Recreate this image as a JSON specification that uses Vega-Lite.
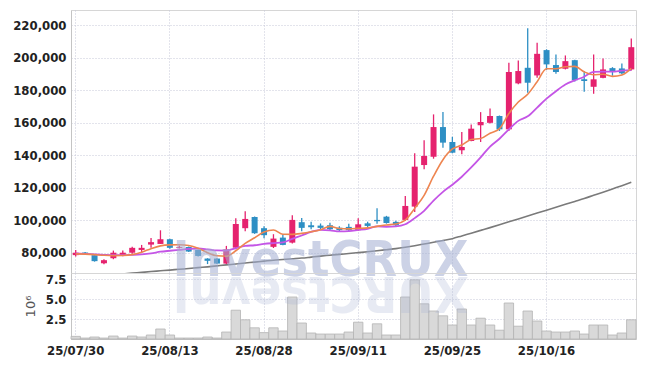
{
  "$schema": "https://vega.github.io/schema/vega-lite/v6.json",
  "padding": {"left": 12, "top": 9, "right": 9, "bottom": 8},
  "background": "white",
  "bounds": "flush",
  "spacing": 0,
  "config": {
    "view": {"stroke": "#d6d6d6"},
    "axis": {
      "labelFont": "DejaVu Sans Condensed",
      "labelFontWeight": "bold",
      "labelFontSize": 13,
      "labelColor": "#222222",
      "labelOverlap": false,
      "domainColor": "#c4c4c4",
      "ticks": false,
      "gridColor": "#c6c9d9",
      "gridDash": [1, 2],
      "gridWidth": 1
    }
  },
  "datasets": {
    "k": [
      {"d": "25/07/30", "o": 78500, "h": 81700, "l": 77600, "c": 80000, "v": 0.33, "m5": 79300, "m10": 79500, "m60": 64500},
      {"d": "25/07/31", "o": 80200, "h": 80500, "l": 79500, "c": 79900, "v": 0.12, "m5": 79100, "m10": 79300, "m60": 65000},
      {"d": "25/08/01", "o": 78500, "h": 78700, "l": 74500, "c": 74800, "v": 0.25, "m5": 78800, "m10": 79000, "m60": 65500},
      {"d": "25/08/04", "o": 73500, "h": 76000, "l": 72900, "c": 75400, "v": 0.12, "m5": 78400, "m10": 78700, "m60": 66000},
      {"d": "25/08/05", "o": 76600, "h": 81300, "l": 76000, "c": 80000, "v": 0.37, "m5": 78200, "m10": 78500, "m60": 66500},
      {"d": "25/08/06", "o": 78500, "h": 81300, "l": 77800, "c": 80000, "v": 0.12, "m5": 78300, "m10": 78500, "m60": 66900},
      {"d": "25/08/07", "o": 80000, "h": 83600, "l": 79400, "c": 83000, "v": 0.37, "m5": 78800, "m10": 78700, "m60": 67400},
      {"d": "25/08/08", "o": 81700, "h": 84800, "l": 79800, "c": 83000, "v": 0.25, "m5": 80300, "m10": 79000, "m60": 67900},
      {"d": "25/08/11", "o": 85000, "h": 89100, "l": 83000, "c": 86500, "v": 0.5, "m5": 82500, "m10": 79600, "m60": 68400},
      {"d": "25/08/12", "o": 85400, "h": 93800, "l": 85400, "c": 88300, "v": 1.25, "m5": 84200, "m10": 80600, "m60": 68850},
      {"d": "25/08/13", "o": 88300, "h": 88600, "l": 82500, "c": 83000, "v": 0.5, "m5": 84800, "m10": 81200, "m60": 69300},
      {"d": "25/08/14", "o": 83000, "h": 84500, "l": 82600, "c": 83500, "v": 0.12, "m5": 84900, "m10": 81750, "m60": 69800},
      {"d": "25/08/18", "o": 83500, "h": 83800, "l": 80400, "c": 80700, "v": 0.12, "m5": 84400, "m10": 82300, "m60": 70250},
      {"d": "25/08/19", "o": 81700, "h": 82000, "l": 77700, "c": 78000, "v": 0.12, "m5": 82700, "m10": 82600, "m60": 70800},
      {"d": "25/08/20", "o": 76400, "h": 76600, "l": 73000, "c": 75000, "v": 0.25, "m5": 80000, "m10": 82100, "m60": 71300},
      {"d": "25/08/21", "o": 76400, "h": 76600, "l": 73000, "c": 73300, "v": 0.12, "m5": 78100, "m10": 81400, "m60": 71900},
      {"d": "25/08/22", "o": 73300, "h": 84200, "l": 73000, "c": 82100, "v": 0.87, "m5": 77800, "m10": 81300, "m60": 72500},
      {"d": "25/08/25", "o": 83100, "h": 101200, "l": 82200, "c": 97700, "v": 3.6, "m5": 81200, "m10": 82800, "m60": 73050},
      {"d": "25/08/26", "o": 95100, "h": 105500, "l": 93200, "c": 100800, "v": 2.4, "m5": 85800, "m10": 84200, "m60": 73650},
      {"d": "25/08/27", "o": 102000, "h": 102300, "l": 91600, "c": 92000, "v": 1.4, "m5": 89200, "m10": 84600, "m60": 74200},
      {"d": "25/08/28", "o": 95100, "h": 96300, "l": 88900, "c": 90800, "v": 0.8, "m5": 92700, "m10": 85400, "m60": 74800},
      {"d": "25/08/29", "o": 83600, "h": 91400, "l": 82900, "c": 88700, "v": 1.4, "m5": 94000, "m10": 85900, "m60": 75400},
      {"d": "25/09/01", "o": 89300, "h": 91200, "l": 84600, "c": 84800, "v": 1.0, "m5": 91400, "m10": 86300, "m60": 75800},
      {"d": "25/09/02", "o": 86200, "h": 103100, "l": 85600, "c": 100200, "v": 5.25, "m5": 91300, "m10": 88500, "m60": 76250},
      {"d": "25/09/03", "o": 98800, "h": 101400, "l": 93200, "c": 95300, "v": 2.0, "m5": 91900, "m10": 90600, "m60": 76700},
      {"d": "25/09/04", "o": 96900, "h": 99100, "l": 94500, "c": 95700, "v": 0.75, "m5": 92900, "m10": 92800, "m60": 77300},
      {"d": "25/09/05", "o": 96700, "h": 98000, "l": 94500, "c": 95300, "v": 0.62, "m5": 94200, "m10": 94100, "m60": 77900},
      {"d": "25/09/08", "o": 96900, "h": 98500, "l": 93400, "c": 94500, "v": 0.62, "m5": 96200, "m10": 93800, "m60": 78450},
      {"d": "25/09/09", "o": 95400, "h": 96300, "l": 93000, "c": 93900, "v": 0.62, "m5": 94900, "m10": 93100, "m60": 79000},
      {"d": "25/09/10", "o": 95900, "h": 97900, "l": 93100, "c": 93900, "v": 0.87, "m5": 94700, "m10": 93300, "m60": 79500},
      {"d": "25/09/11", "o": 93900, "h": 101200, "l": 93500, "c": 97500, "v": 2.1, "m5": 95000, "m10": 94000, "m60": 80050},
      {"d": "25/09/12", "o": 98100, "h": 99100, "l": 95500, "c": 96500, "v": 0.75, "m5": 95300, "m10": 94750, "m60": 80600},
      {"d": "25/09/15", "o": 100200, "h": 107400, "l": 97900, "c": 99400, "v": 1.9, "m5": 96200, "m10": 96200, "m60": 81200},
      {"d": "25/09/16", "o": 102200, "h": 102700, "l": 97900, "c": 98300, "v": 0.5, "m5": 97100, "m10": 96000, "m60": 81850},
      {"d": "25/09/17", "o": 99000, "h": 99700, "l": 96000, "c": 96900, "v": 0.5, "m5": 97700, "m10": 96200, "m60": 82500},
      {"d": "25/09/18", "o": 100200, "h": 115000, "l": 99600, "c": 108800, "v": 5.25, "m5": 100000, "m10": 97500, "m60": 83350},
      {"d": "25/09/19", "o": 108400, "h": 141200, "l": 105100, "c": 133000, "v": 7.4, "m5": 107300, "m10": 101300, "m60": 84300},
      {"d": "25/09/22", "o": 134000, "h": 149200, "l": 131400, "c": 139600, "v": 4.4, "m5": 115300, "m10": 105800, "m60": 85350},
      {"d": "25/09/23", "o": 139100, "h": 165200, "l": 137900, "c": 157400, "v": 3.5, "m5": 127100, "m10": 112100, "m60": 86400},
      {"d": "25/09/24", "o": 157400, "h": 166600, "l": 144700, "c": 147800, "v": 2.9, "m5": 137300, "m10": 117500, "m60": 87500},
      {"d": "25/09/25", "o": 148200, "h": 151400, "l": 141200, "c": 141600, "v": 1.75, "m5": 143900, "m10": 121900, "m60": 88650},
      {"d": "25/09/26", "o": 143100, "h": 154300, "l": 140600, "c": 145100, "v": 3.75, "m5": 146300, "m10": 126800, "m60": 90350},
      {"d": "25/09/29", "o": 148800, "h": 159000, "l": 148600, "c": 156400, "v": 1.75, "m5": 149700, "m10": 132500, "m60": 92050},
      {"d": "25/09/30", "o": 158500, "h": 166600, "l": 148200, "c": 160500, "v": 2.6, "m5": 150300, "m10": 138700, "m60": 93750},
      {"d": "25/10/01", "o": 160000, "h": 168900, "l": 159600, "c": 164200, "v": 1.75, "m5": 153600, "m10": 145400, "m60": 95450},
      {"d": "25/10/02", "o": 164200, "h": 164500, "l": 155000, "c": 156000, "v": 1.1, "m5": 156400, "m10": 150200, "m60": 97200},
      {"d": "25/10/10", "o": 156000, "h": 197000, "l": 155000, "c": 191300, "v": 4.5, "m5": 165700, "m10": 156000, "m60": 99000},
      {"d": "25/10/13", "o": 184300, "h": 198400, "l": 183700, "c": 191900, "v": 1.6, "m5": 172800, "m10": 161200, "m60": 100800},
      {"d": "25/10/14", "o": 193900, "h": 218200, "l": 178500, "c": 184700, "v": 3.5, "m5": 177600, "m10": 164000, "m60": 102600},
      {"d": "25/10/15", "o": 189200, "h": 209300, "l": 187700, "c": 202500, "v": 2.25, "m5": 185300, "m10": 169400, "m60": 104400},
      {"d": "25/10/16", "o": 204800, "h": 205300, "l": 192600, "c": 196000, "v": 1.0, "m5": 193300, "m10": 174900, "m60": 106200},
      {"d": "25/10/17", "o": 195600, "h": 202100, "l": 190200, "c": 191300, "v": 0.87, "m5": 193300, "m10": 179500, "m60": 108000},
      {"d": "25/10/20", "o": 193300, "h": 201500, "l": 192900, "c": 198000, "v": 0.87, "m5": 194500, "m10": 183600, "m60": 109800},
      {"d": "25/10/21", "o": 198600, "h": 198900, "l": 185500, "c": 186200, "v": 1.0, "m5": 194800, "m10": 186200, "m60": 111600},
      {"d": "25/10/22", "o": 186900, "h": 191900, "l": 179100, "c": 185700, "v": 0.62, "m5": 191400, "m10": 188400, "m60": 113400},
      {"d": "25/10/23", "o": 182200, "h": 202100, "l": 177900, "c": 186800, "v": 1.75, "m5": 189600, "m10": 191400, "m60": 115350},
      {"d": "25/10/24", "o": 187700, "h": 199700, "l": 187400, "c": 192900, "v": 1.75, "m5": 189900, "m10": 191600, "m60": 117300},
      {"d": "25/10/27", "o": 193700, "h": 194300, "l": 189000, "c": 191400, "v": 0.5, "m5": 188600, "m10": 191500, "m60": 119300},
      {"d": "25/10/28", "o": 193500, "h": 196600, "l": 190000, "c": 190500, "v": 0.75, "m5": 189500, "m10": 192100, "m60": 121300},
      {"d": "25/10/29", "o": 192900, "h": 212000, "l": 192300, "c": 206600, "v": 2.4, "m5": 193600, "m10": 192500, "m60": 123400}
    ]
  },
  "vconcat": [
    {
      "width": 565,
      "height": 263,
      "data": {"name": "k"},
      "encoding": {
        "x": {
          "field": "d", "type": "ordinal", "sort": null,
          "scale": {"paddingInner": 0, "paddingOuter": 0},
          "axis": {"values": ["25/07/30", "25/08/13", "25/08/28", "25/09/11", "25/09/25", "25/10/16"], "labels": false, "domain": false, "grid": true, "bandPosition": 0.5, "title": null}
        }
      },
      "layer": [
        {
          "mark": {"type": "rule", "strokeWidth": 1.3},
          "encoding": {
            "y": {"field": "l", "type": "quantitative", "scale": {"domain": [67500, 229500], "nice": false, "zero": false},
              "axis": {"values": [80000, 100000, 120000, 140000, 160000, 180000, 200000, 220000], "tickCount": 20, "format": ",.0f", "title": null, "grid": true, "labelPadding": 5, "labelOverlap": false, "labelBound": false, "labelFlush": false}},
            "y2": {"field": "h"},
            "color": {"condition": {"test": "datum.c >= datum.o", "value": "#e5226e"}, "value": "#2e8fc4"}
          }
        },
        {
          "mark": {"type": "bar", "size": 6},
          "encoding": {
            "y": {"field": "o", "type": "quantitative"},
            "y2": {"field": "c"},
            "color": {"condition": {"test": "datum.c >= datum.o", "value": "#e5226e"}, "value": "#2e8fc4"}
          }
        },
        {
          "mark": {"type": "line", "color": "#7a7a7a", "strokeWidth": 1.6, "interpolate": "monotone", "clip": true},
          "encoding": {"y": {"field": "m60", "type": "quantitative"}}
        },
        {
          "mark": {"type": "line", "color": "#c455e6", "strokeWidth": 1.8, "interpolate": "monotone", "clip": true},
          "encoding": {"y": {"field": "m10", "type": "quantitative"}}
        },
        {
          "mark": {"type": "line", "color": "#ee8550", "strokeWidth": 1.6, "interpolate": "monotone", "clip": true},
          "encoding": {"y": {"field": "m5", "type": "quantitative"}}
        },
        {
          "data": {"values": [{"t": "InvestCRUX"}]},
          "mark": {"type": "text", "font": "DejaVu Sans Condensed", "fontWeight": "bold", "fontSize": 50, "color": "#a3afd2", "opacity": 0.55, "align": "center", "baseline": "alphabetic"},
          "encoding": {
            "text": {"field": "t"},
            "x": {"datum": "25/09/05"},
            "y": {"datum": 65700}
          }
        }
      ]
    },
    {
      "width": 565,
      "height": 66,
      "data": {"name": "k"},
      "encoding": {
        "x": {
          "field": "d", "type": "ordinal", "sort": null,
          "scale": {"paddingInner": 0, "paddingOuter": 0},
          "axis": {"values": ["25/07/30", "25/08/13", "25/08/28", "25/09/11", "25/09/25", "25/10/16"], "labelAngle": 0, "labelPadding": 5, "grid": true, "bandPosition": 0.5, "title": null}
        }
      },
      "layer": [
        {
          "mark": {"type": "bar", "fill": "#d9d9d9", "stroke": "#b4b4b4", "strokeWidth": 0.8},
          "encoding": {
            "y": {"field": "v", "type": "quantitative", "scale": {"domain": [0, 8.25], "nice": false},
              "axis": {"values": [2.5, 5, 7.5], "tickCount": 10, "format": ".1f", "title": "10⁶", "titleFont": "DejaVu Sans", "titleFontWeight": "normal", "titleFontSize": 13, "titleColor": "#555555", "titlePadding": 8, "grid": true, "labelPadding": 5, "labelOverlap": false, "labelBound": false, "labelFlush": false}}
          }
        },
        {
          "data": {"values": [{"t": "XURCtsevnI"}]},
          "mark": {"type": "text", "font": "DejaVu Sans Condensed", "fontWeight": "bold", "fontSize": 50, "color": "#a3afd2", "opacity": 0.25, "align": "center", "baseline": "alphabetic", "angle": 180},
          "encoding": {
            "text": {"field": "t"},
            "x": {"datum": "25/09/05"},
            "y": {"datum": 7.75}
          }
        }
      ]
    }
  ]
}
